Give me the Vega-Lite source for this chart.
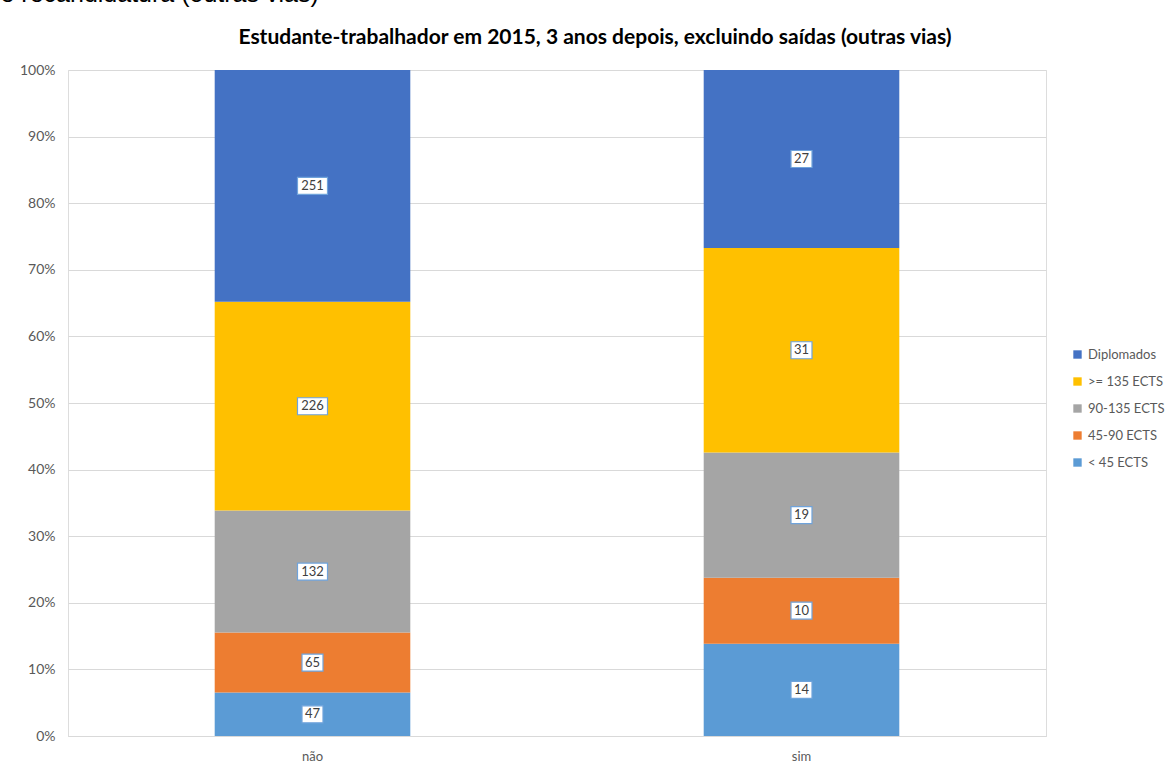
{
  "$schema": "https://vega.github.io/schema/vega-lite/v6.json",
  "autosize": {"type": "none"},
  "width": 978,
  "height": 666,
  "padding": {"left": 68, "top": 70, "right": 124, "bottom": 33},
  "background": "white",
  "title": {
    "text": "Estudante-trabalhador em 2015, 3 anos depois, excluindo saídas (outras vias)",
    "font": "Lato",
    "fontSize": 21,
    "fontWeight": "bold",
    "color": "#000000",
    "anchor": "middle",
    "dx": 38,
    "offset": -67
  },
  "data": {
    "values": [
      {"grupo": "não", "cat": "< 45 ECTS", "ord": 1, "n": 47},
      {"grupo": "não", "cat": "45-90 ECTS", "ord": 2, "n": 65},
      {"grupo": "não", "cat": "90-135 ECTS", "ord": 3, "n": 132},
      {"grupo": "não", "cat": ">= 135 ECTS", "ord": 4, "n": 226},
      {"grupo": "não", "cat": "Diplomados", "ord": 5, "n": 251},
      {"grupo": "sim", "cat": "< 45 ECTS", "ord": 1, "n": 14},
      {"grupo": "sim", "cat": "45-90 ECTS", "ord": 2, "n": 10},
      {"grupo": "sim", "cat": "90-135 ECTS", "ord": 3, "n": 19},
      {"grupo": "sim", "cat": ">= 135 ECTS", "ord": 4, "n": 31},
      {"grupo": "sim", "cat": "Diplomados", "ord": 5, "n": 27}
    ]
  },
  "encoding": {
    "x": {
      "field": "grupo",
      "type": "nominal",
      "scale": {"paddingInner": 0.6, "paddingOuter": 0.3},
      "axis": {
        "title": null,
        "labelAngle": 0,
        "labelFont": "Lato",
        "labelFontSize": 13,
        "labelColor": "#595959",
        "labelPadding": 14,
        "domainColor": "#d9d9d9",
        "ticks": false
      }
    },
    "order": {"field": "ord", "type": "quantitative"}
  },
  "layer": [
    {
      "mark": {"type": "bar"},
      "encoding": {
        "y": {
          "field": "n",
          "type": "quantitative",
          "stack": "normalize",
          "scale": {"domain": [0, 1]},
          "axis": {
            "title": "e recandidatura (outras vias)",
            "titleAngle": 0,
            "titleX": -68,
            "titleY": -69,
            "titleAlign": "left",
            "titleBaseline": "alphabetic",
            "titleFont": "Liberation Sans",
            "titleFontSize": 25,
            "titleFontWeight": "normal",
            "titleColor": "#000000",
            "format": ".0%",
            "values": [0, 0.1, 0.2, 0.3, 0.4, 0.5, 0.6, 0.7, 0.8, 0.9, 1],
            "labelFont": "Lato",
            "labelFontSize": 14,
            "labelColor": "#595959",
            "labelPadding": 13,
            "domain": false,
            "ticks": false,
            "gridColor": "#d9d9d9"
          }
        },
        "color": {
          "field": "cat",
          "type": "nominal",
          "scale": {
            "domain": ["Diplomados", ">= 135 ECTS", "90-135 ECTS", "45-90 ECTS", "< 45 ECTS"],
            "range": ["#4472C4", "#FFC000", "#A5A5A5", "#ED7D31", "#5B9BD5"]
          },
          "legend": {
            "title": null,
            "orient": "none",
            "legendX": 1003,
            "legendY": 278,
            "symbolType": "square",
            "symbolSize": 70,
            "symbolStrokeWidth": 0,
            "labelFont": "Lato",
            "labelFontSize": 13,
            "labelColor": "#595959",
            "rowPadding": 13,
            "labelOffset": 4
          }
        }
      }
    },
    {
      "mark": {"type": "point", "filled": true, "fill": "white", "stroke": "#6FA3DB", "strokeWidth": 1.2, "opacity": 1, "size": 900},
      "encoding": {
        "y": {"field": "n", "type": "quantitative", "stack": "normalize", "bandPosition": 0.5},
        "shape": {
          "condition": {"test": "datum.n >= 100", "value": "M-1,-0.567H1V0.567H-1Z"},
          "value": "M-0.7,-0.567H0.7V0.567H-0.7Z"
        }
      }
    },
    {
      "mark": {"type": "text", "font": "Lato", "fontSize": 13, "color": "#404040", "baseline": "middle"},
      "encoding": {
        "y": {"field": "n", "type": "quantitative", "stack": "normalize", "bandPosition": 0.5},
        "text": {"field": "n", "type": "quantitative"}
      }
    }
  ]
}
